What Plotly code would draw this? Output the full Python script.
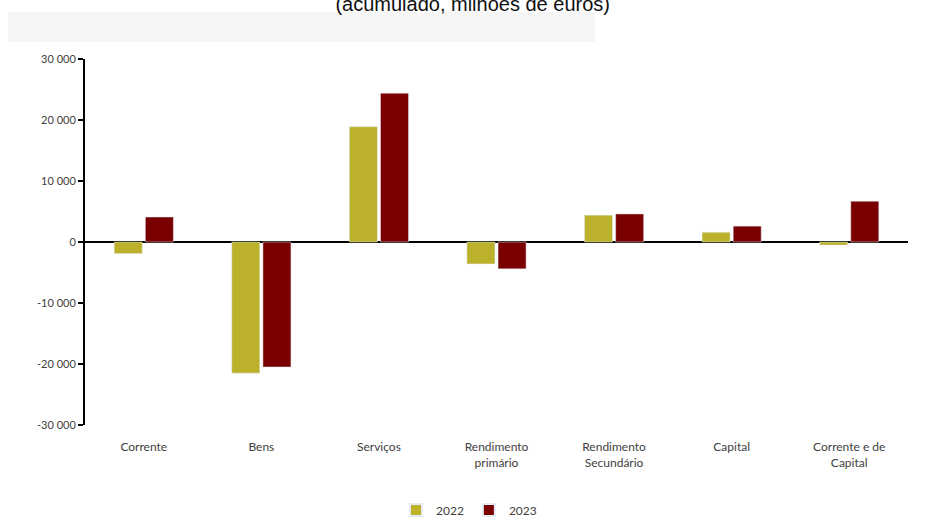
import plotly.graph_objects as go

categories = ["Corrente", "Bens", "Serviços", "Rendimento<br>primário",
              "Rendimento<br>Secundário", "Capital", "Corrente e de<br>Capital"]
values_2022 = [-1900, -21500, 18900, -3600, 4400, 1600, -500]
values_2023 = [4100, -20500, 24400, -4400, 4600, 2600, 6700]
tick_vals = [-30000, -20000, -10000, 0, 10000, 20000, 30000]
tick_text = ["-30 000", "-20 000", "-10 000", "0", "10 000", "20 000", "30 000"]

fig = go.Figure()
fig.add_trace(go.Bar(x=categories, y=values_2022, name="2022", marker_color="#BBB12A"))
fig.add_trace(go.Bar(x=categories, y=values_2023, name="2023", marker_color="#7A0000"))

fig.update_layout(
    width=925, height=520,
    margin=dict(l=85, r=17, t=59, b=95, autoexpand=False),
    paper_bgcolor="white", plot_bgcolor="white",
    barmode="group", bargap=0.47, bargroupgap=0.1,
    font=dict(family="Lato, Open Sans, sans-serif", color="#404040", size=11),
    title=dict(text="(acumulado, milhões de euros)", x=0.511, xanchor="center",
               y=1 - 11 / 520, yanchor="bottom", yref="container",
               font=dict(family="Liberation Sans, Arial", size=20, color="#111111")),
    legend=dict(orientation="h", x=(469 - 85) / 823, xanchor="center",
                y=1 - 510 / 520, yanchor="middle", yref="container",
                font=dict(size=12, color="#404040"), itemwidth=30,
                itemsizing="constant"),
    showlegend=True,
)
fig.update_yaxes(range=[-30000, 30000], tickvals=tick_vals, ticktext=tick_text,
                 showgrid=False, zeroline=True, zerolinecolor="black", zerolinewidth=2,
                 showline=True, linecolor="black", linewidth=2,
                 ticks="outside", ticklen=5, tickcolor="black", tickwidth=1.5,
                 tickfont=dict(size=11, color="#404040"))
fig.update_xaxes(showgrid=False, showline=False, ticks="", ticklabelstandoff=13,
                 tickfont=dict(size=12, color="#404040"))
fig.add_shape(type="rect", xref="paper", yref="paper",
              x0=-77/823, x1=510/823, y0=(425-42)/366, y1=(425-12)/366,
              fillcolor="#f6f6f6", line=dict(width=0), layer="below")

fig.write_html("out.html")
